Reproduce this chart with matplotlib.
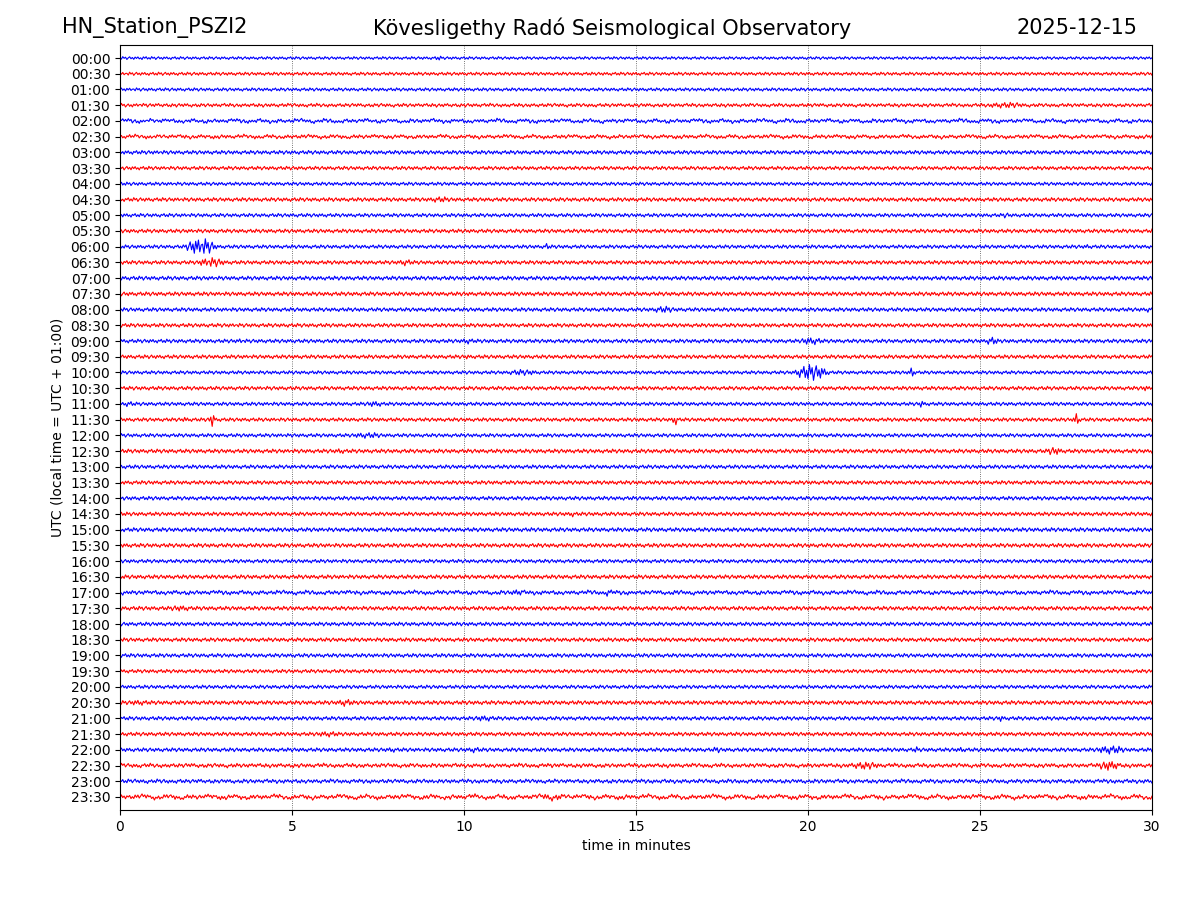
import numpy as np
import matplotlib
matplotlib.use('Agg')
import matplotlib.pyplot as plt

# row labels, one trace per half hour
hours = ['{0:02d}:{1}'.format(h, m) for h in range(24) for m in ('00', '30')]

# background noise half-amplitude per row (pixels)
noise = [1.4, 1.6, 1.6, 1.7, 1.7, 1.7, 1.9, 1.8, 1.7, 1.9, 1.8, 1.9,
         1.8, 1.9, 2.0, 2.0, 1.9, 1.9, 1.9, 1.9, 1.7, 1.9, 1.8, 1.8,
         1.8, 2.0, 1.9, 1.9, 1.9, 1.9, 2.0, 2.0, 1.8, 2.0, 1.9, 2.0,
         1.9, 1.9, 1.9, 1.8, 1.8, 2.0, 1.9, 1.9, 1.9, 1.9, 1.9, 1.9]

# long period wobble per row (pixels)
slow = [0.0, 0.0, 0.0, 0.3, 1.0, 0.8, 0.0, 0.0, 0.0, 0.0, 0.0, 0.0,
        0.0, 0.0, 0.0, 0.0, 0.0, 0.0, 0.0, 0.0, 0.0, 0.0, 0.0, 0.0,
        0.0, 0.0, 0.0, 0.0, 0.0, 0.0, 0.0, 0.0, 0.0, 0.0, 0.7, 0.0,
        0.0, 0.0, 0.0, 0.0, 0.0, 0.0, 0.0, 0.0, 0.0, 0.5, 0.4, 1.3]

# events: row, start minute, end minute, half-amplitude (pixels)
ev_row   = [0, 0, 3, 9, 10, 12, 12, 12, 13, 13, 16, 16, 18, 18, 18, 18, 19,
            20, 20, 20, 21, 22, 22, 22, 23, 23, 23, 23, 24, 25, 25, 29,
            34, 34, 34, 35, 41, 41, 42, 42, 43, 44, 44, 44, 44, 44, 44,
            45, 45, 47]
ev_start = [0.6, 9.1, 24.9, 8.8, 25.6, 1.8, 12.3, 28.0, 2.1, 8.0, 15.3, 29.8,
            3.4, 9.8, 19.6, 25.1, 10.0, 11.0, 19.5, 22.95, 29.6, 0.0, 7.0,
            23.2, 1.8, 2.6, 16.05, 27.7, 6.5, 6.2, 26.8, 13.05, 11.3, 14.0,
            16.1, 1.2, 0.0, 6.2, 10.1, 25.5, 5.5, 7.7, 10.0, 17.2, 23.0,
            24.3, 28.2, 21.0, 28.3, 11.9]
ev_end   = [0.8, 9.4, 26.6, 9.8, 25.9, 2.9, 12.5, 28.2, 3.2, 8.6, 16.3, 30.0,
            3.6, 10.4, 20.6, 25.6, 10.2, 12.4, 20.7, 23.1, 30.0, 0.5, 7.8,
            23.4, 2.0, 2.75, 16.2, 27.9, 7.9, 6.6, 27.5, 13.2, 11.8, 14.4,
            16.3, 2.3, 1.1, 6.9, 11.1, 25.7, 6.6, 8.1, 10.6, 17.5, 23.3,
            24.6, 29.4, 22.3, 29.2, 13.2]
ev_amp   = [2.5, 2.5, 3.0, 3.0, 2.8, 8.5, 3.5, 2.8, 4.8, 3.4, 3.4, 2.8,
            2.8, 3.0, 3.8, 4.2, 2.5, 3.0, 8.0, 6.0, 2.8, 2.8, 3.0, 3.8,
            3.4, 7.5, 6.0, 7.5, 3.0, 3.0, 4.0, 3.4, 3.4, 3.4, 2.8, 3.0,
            2.8, 3.8, 3.0, 3.4, 3.0, 2.8, 3.0, 3.4, 3.0, 3.0, 4.3, 3.8,
            5.0, 3.0]

# fixed wiggle shapes that get stretched by the envelopes
fast_shape = [0.3, -0.8, 1.0, -0.2, 0.6, -1.0, 0.1, 0.9, -0.5, 0.4, -0.9,
              0.7, -0.3, 0.8, -0.6, 0.2, -1.0, 0.5, -0.1, 0.9, -0.7]
slow_shape = [0.0, 0.6, 1.0, 0.5, -0.3, -0.9, -0.6, 0.2, 0.8, 0.3, -0.5,
              -1.0, -0.4, 0.4, 0.1, -0.2]

PX_PER_ROW = 15.72
step = 0.04
t = np.arange(0, 30 + step / 2, step)

def trace(i):
    env = np.full(t.shape, noise[i])
    for r, s, e, a in zip(ev_row, ev_start, ev_end, ev_amp):
        if r != i:
            continue
        if e - s < 0.2:
            c = (s + e) / 2
            s, e = c - 0.1, c + 0.1
        inside = (t >= s) & (t <= e)
        w = np.sin(np.pi * (t[inside] - s) / (e - s))
        env[inside] = np.maximum(env[inside], a * w)
    fast = np.roll(np.resize(fast_shape, t.size), 5 * i)
    slw = np.roll(np.resize(np.repeat(slow_shape, 3), t.size), 7 * i)
    return (env * fast + slow[i] * slw) / PX_PER_ROW

fig = plt.figure(figsize=(12, 9), dpi=100)
ax = fig.add_axes([0.1, 0.1, 0.86, 0.85])

for i in range(len(hours)):
    col = '#0000ff' if i % 2 == 0 else '#ff0000'
    ax.plot(t, i - trace(i), color=col, linewidth=0.8)

ax.set_xlim(0, 30)
ax.set_ylim(len(hours) - 0.17, -0.83)
ax.set_yticks(range(len(hours)))
ax.set_yticklabels(hours)
ax.set_xticks([0, 5, 10, 15, 20, 25, 30])
ax.grid(axis='x', linestyle=':', color='k', linewidth=0.6, alpha=0.7)
ax.set_xlabel('time in minutes')
ax.set_ylabel('UTC (local time = UTC + 01:00)')

fig.text(0.052, 0.969, 'HN_Station_PSZI2', fontsize=15, va='center', ha='left')
fig.text(0.51, 0.969, 'Kövesligethy Radó Seismological Observatory', fontsize=15,
         va='center', ha='center')
fig.text(0.948, 0.969, '2025-12-15', fontsize=15, va='center', ha='right')

fig.savefig('out.png', dpi=100)
